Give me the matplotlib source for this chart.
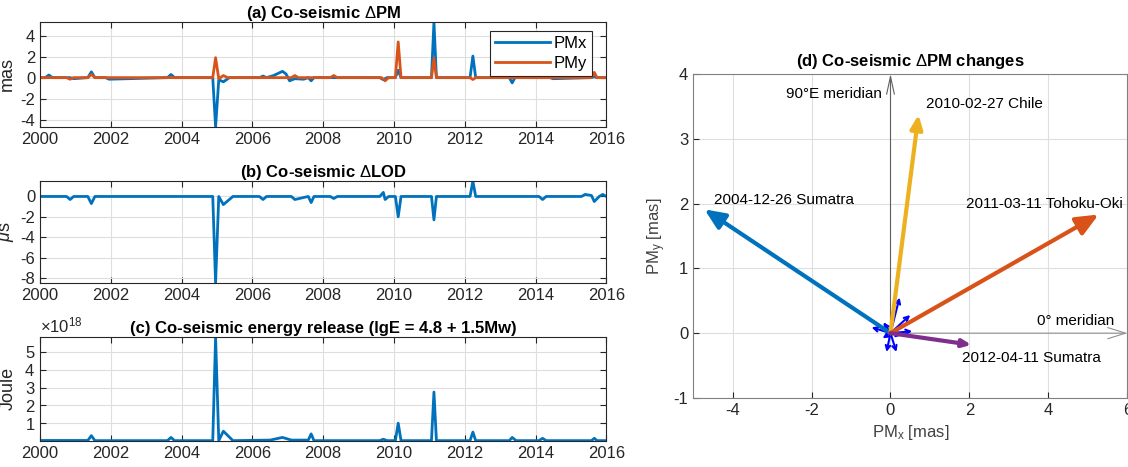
import matplotlib
matplotlib.use("Agg")
import matplotlib.pyplot as plt
from matplotlib.ticker import ScalarFormatter

plt.rcParams["font.family"] = ["Liberation Sans", "DejaVu Sans"]
plt.rcParams["mathtext.fontset"] = "custom"
plt.rcParams["mathtext.rm"] = "Liberation Sans"
plt.rcParams["mathtext.it"] = "Liberation Sans:italic"
plt.rcParams["axes.unicode_minus"] = False
plt.rcParams["font.size"] = 12

# ---- data ----
# (a) co-seismic polar motion change, mas
pmx_t = [2000.0, 2000.15, 2000.25, 2000.35, 2000.85, 2000.95, 2001.35, 2001.45, 2001.55,
         2001.85, 2001.95, 2003.6, 2003.7, 2003.8, 2004.88, 2004.96, 2005.05, 2005.18,
         2005.35, 2006.2, 2006.3, 2006.4, 2006.6, 2006.85, 2006.95, 2007.05, 2007.2,
         2007.45, 2007.58, 2007.66, 2007.74, 2009.6, 2009.7, 2009.8, 2010.04, 2010.12,
         2010.2, 2011.06, 2011.13, 2011.2, 2012.15, 2012.23, 2012.31, 2013.26, 2013.34,
         2013.42, 2014.4, 2014.5, 2015.58, 2015.66, 2015.74, 2016.0]
pmx_v = [0.0, 0.0, 0.25, 0.0, 0.0, -0.1, 0.0, 0.55, 0.0,
         0.0, -0.15, 0.0, 0.3, 0.0, 0.0, -4.7, -0.2, -0.4,
         0.0, 0.0, 0.15, 0.0, 0.2, 0.6, 0.35, -0.3, -0.1,
         -0.15, 0.0, -0.3, 0.0, 0.0, -0.2, 0.0, 0.0, 0.7,
         0.0, 0.0, 5.3, 0.0, 0.0, 2.05, 0.0, 0.0, -0.5,
         0.0, 0.0, -0.1, 0.0, 0.1, 0.0, 0.0]
pmy_t = [2000.0, 2000.75, 2000.85, 2000.95, 2001.35, 2001.45, 2001.55, 2004.88, 2004.96,
         2005.05, 2005.18, 2005.3, 2007.1, 2007.2, 2007.3, 2008.2, 2008.3, 2008.4,
         2009.65, 2009.75, 2009.85, 2010.04, 2010.12, 2010.2, 2011.06, 2011.13, 2011.2,
         2012.15, 2012.23, 2012.31, 2015.58, 2015.66, 2015.74, 2016.0]
pmy_v = [0.0, 0.0, -0.15, 0.0, 0.0, 0.3, 0.0, 0.0, 1.9,
         -0.1, 0.2, 0.0, 0.0, 0.2, 0.0, 0.0, 0.2, 0.0,
         0.0, -0.3, 0.0, 0.0, 3.4, 0.0, 0.0, 1.85, 0.0,
         0.0, -0.18, 0.0, 0.0, 0.5, 0.0, 0.0]

# (b) co-seismic LOD change, microseconds
lod_t = [2000.0, 2000.75, 2000.85, 2000.95, 2001.35, 2001.45, 2001.55, 2004.88, 2004.96,
         2005.05, 2005.18, 2005.45, 2006.2, 2006.3, 2006.4, 2007.1, 2007.2, 2007.45,
         2007.58, 2007.66, 2007.74, 2008.2, 2008.3, 2008.4, 2009.6, 2009.7, 2009.75,
         2009.85, 2010.04, 2010.12, 2010.2, 2011.06, 2011.13, 2011.2, 2012.15, 2012.23,
         2012.31, 2014.1, 2014.2, 2014.3, 2015.3, 2015.4, 2015.58, 2015.66, 2015.8,
         2015.9, 2016.0]
lod_v = [0.0, 0.0, -0.3, 0.0, 0.0, -0.7, 0.0, 0.0, -8.5,
         0.0, -0.8, 0.0, 0.0, -0.3, 0.0, 0.0, -0.3, -0.1,
         0.0, -0.6, 0.0, 0.0, -0.2, 0.0, 0.0, 0.4, -0.3,
         0.0, 0.0, -2.0, 0.0, 0.0, -2.3, 0.0, 0.0, 1.5,
         0.0, 0.0, -0.3, 0.0, 0.0, 0.2, 0.1, -0.5, 0.0,
         0.2, 0.0]

# (c) co-seismic energy release, Joule
en_t = [2000.0, 2001.35, 2001.45, 2001.55, 2003.6, 2003.7, 2003.8, 2004.88, 2004.96,
        2005.05, 2005.18, 2005.45, 2006.5, 2006.85, 2007.1, 2007.58, 2007.66, 2007.74,
        2009.6, 2009.7, 2009.8, 2010.04, 2010.12, 2010.2, 2011.06, 2011.13, 2011.2,
        2012.15, 2012.23, 2012.31, 2013.26, 2013.34, 2013.45, 2014.1, 2014.2, 2014.3,
        2015.58, 2015.66, 2015.74, 2016.0]
en_v = [0.03e18, 0.03e18, 0.3e18, 0.02e18, 0.02e18, 0.2e18, 0.02e18, 0.02e18, 5.85e18,
        0.02e18, 0.55e18, 0.02e18, 0.05e18, 0.2e18, 0.05e18, 0.05e18, 0.4e18, 0.02e18,
        0.02e18, 0.1e18, 0.02e18, 0.02e18, 1.0e18, 0.02e18, 0.02e18, 2.75e18, 0.02e18,
        0.02e18, 0.5e18, 0.02e18, 0.02e18, 0.2e18, 0.02e18, 0.02e18, 0.15e18, 0.02e18,
        0.02e18, 0.15e18, 0.02e18, 0.02e18]

# (d) co-seismic PM vectors of the big events, mas
events = ["2004-12-26 Sumatra", "2010-02-27 Chile", "2011-03-11 Tohoku-Oki", "2012-04-11 Sumatra"]
ev_dx = [-4.71, 0.71, 5.27, 2.05]
ev_dy = [1.91, 3.37, 1.83, -0.18]
ev_colors = ["#0072BD", "#EDB120", "#D95319", "#7E2F8E"]
ev_label_xy = [(-4.48, 2.06), (0.91, 3.54), (1.92, 2.0), (1.82, -0.38)]
small_dx = [0.23, 0.5, 0.55, -0.48, -0.18, -0.1, 0.15, 0.3, -0.2]
small_dy = [0.55, 0.28, 0.03, 0.09, 0.17, -0.29, -0.29, -0.03, -0.08]

BLUE = "#0072BD"
ORANGE = "#D95319"
DARK = "#262626"


def style_axes(ax, spine_color=DARK):
    ax.grid(True, color="#dedede", linewidth=0.8)
    ax.set_axisbelow(True)
    ax.tick_params(direction="in", top=True, right=True, length=4,
                   colors=DARK, labelsize=12, width=0.8)
    for s in ax.spines.values():
        s.set_color(spine_color)
        s.set_linewidth(0.8)


fig = plt.figure(figsize=(11.28, 4.67), dpi=100)

years = list(range(2000, 2017, 2))

# (a)
ax_a = fig.add_axes([0.0355, 0.728, 0.502, 0.225])
ax_a.plot(pmx_t, pmx_v, color=BLUE, lw=2, label="PMx")
ax_a.plot(pmy_t, pmy_v, color=ORANGE, lw=2, label="PMy")
ax_a.set_xlim(2000, 2016)
ax_a.set_ylim(-4.7, 5.3)
ax_a.set_xticks(years)
ax_a.set_yticks([-4, -2, 0, 2, 4])
ax_a.set_ylabel("mas", fontsize=13, color=DARK)
ax_a.yaxis.set_label_coords(-0.042, 0.5)
ax_a.set_title("(a) Co-seismic $\\Delta$PM", fontweight="bold", fontsize=12, pad=3)
leg = ax_a.legend(loc="upper right", bbox_to_anchor=(0.975, 0.914), borderaxespad=0,
                  fancybox=False, edgecolor=DARK, handlelength=3.3, handletextpad=0.25,
                  borderpad=0.3, labelspacing=0.3, fontsize=12, framealpha=1)
leg.get_frame().set_linewidth(0.8)
style_axes(ax_a)

# (b)
ax_b = fig.add_axes([0.0355, 0.394, 0.502, 0.218])
ax_b.plot(lod_t, lod_v, color=BLUE, lw=2)
ax_b.set_xlim(2000, 2016)
ax_b.set_ylim(-8.5, 1.5)
ax_b.set_xticks(years)
ax_b.set_yticks([-8, -6, -4, -2, 0])
ax_b.set_ylabel("$\\mu$s", fontsize=13, color=DARK)
ax_b.yaxis.set_label_coords(-0.042, 0.5)
ax_b.set_title("(b) Co-seismic $\\Delta$LOD", fontweight="bold", fontsize=12, pad=3)
style_axes(ax_b)

# (c)
ax_c = fig.add_axes([0.0355, 0.0557, 0.502, 0.223])
ax_c.plot(en_t, en_v, color=BLUE, lw=2)
ax_c.set_xlim(2000, 2016)
ax_c.set_ylim(0, 5.85e18)
ax_c.set_xticks(years)
ax_c.set_yticks([1e18, 2e18, 3e18, 4e18, 5e18])
fmt = ScalarFormatter(useMathText=True)
fmt.set_powerlimits((0, 0))
ax_c.yaxis.set_major_formatter(fmt)
ax_c.yaxis.get_offset_text().set_color("#707070")
ax_c.yaxis.get_offset_text().set_fontsize(12)
ax_c.set_ylabel("Joule", fontsize=13, color=DARK)
ax_c.yaxis.set_label_coords(-0.042, 0.5)
ax_c.set_title("(c) Co-seismic energy release (lgE = 4.8 + 1.5Mw)",
               fontweight="bold", fontsize=12, pad=3)
style_axes(ax_c)

# (d)
ax_d = fig.add_axes([0.6144, 0.1478, 0.3851, 0.694])
ax_d.set_xlim(-5, 6)
ax_d.set_ylim(-1, 4)
ax_d.set_xticks([-4, -2, 0, 2, 4, 6])
ax_d.set_yticks([-1, 0, 1, 2, 3, 4])
style_axes(ax_d, spine_color="#808080")
ax_d.tick_params(top=False, right=False)

# meridian axes
ax_d.annotate("", xy=(0, 4), xytext=(0, 0),
              arrowprops=dict(arrowstyle="->,head_length=1.6,head_width=0.35",
                              color="#606060", lw=0.8, mutation_scale=8,
                              shrinkA=0, shrinkB=0))
ax_d.annotate("", xy=(6, 0), xytext=(0, 0),
              arrowprops=dict(arrowstyle="->,head_length=1.6,head_width=0.5",
                              color="#909090", lw=0.8, mutation_scale=8,
                              shrinkA=0, shrinkB=0))
ax_d.text(-0.23, 3.69, "90°E meridian", ha="right", va="center", fontsize=11, color="black")
ax_d.text(3.7, 0.18, "0° meridian", ha="left", va="center", fontsize=11, color="black")

for dx, dy in zip(small_dx, small_dy):
    ax_d.annotate("", xy=(dx, dy), xytext=(0, 0),
                  arrowprops=dict(arrowstyle="->,head_length=0.4,head_width=0.2",
                                  color="blue", lw=1.5, mutation_scale=8,
                                  shrinkA=0, shrinkB=0))

for name, dx, dy, c, (lx, ly) in zip(events, ev_dx, ev_dy, ev_colors, ev_label_xy):
    size = 3.0 * (dx ** 2 + dy ** 2) ** 0.5
    ax_d.annotate("", xy=(dx, dy), xytext=(0, 0),
                  arrowprops=dict(arrowstyle="-|>,head_length=0.8,head_width=0.35",
                                  color=c, lw=3, mutation_scale=size,
                                  shrinkA=0, shrinkB=0))
    ax_d.text(lx, ly, name, ha="left", va="center", fontsize=11, color="black")

ax_d.set_xlabel("PM$_{\\rm x}$ [mas]", fontsize=12, color="#404040", labelpad=4)
ax_d.set_ylabel("PM$_{\\rm y}$ [mas]", fontsize=12, color="#404040", labelpad=4)
ax_d.set_title("(d) Co-seismic $\\Delta$PM changes", fontweight="bold", fontsize=12, pad=6)

fig.savefig("out.png", dpi=100)
